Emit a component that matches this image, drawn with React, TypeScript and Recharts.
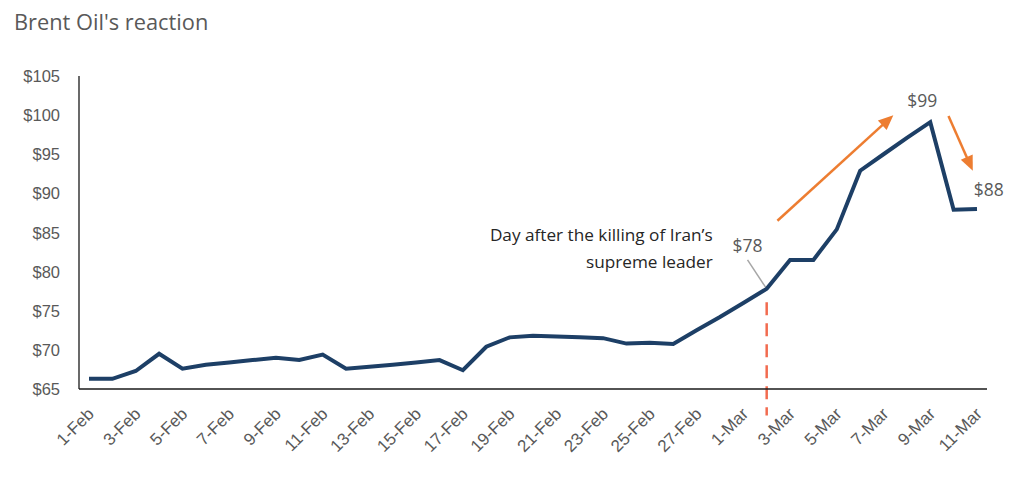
import React from 'react';
import { LineChart, Line, XAxis, YAxis, ReferenceLine, ReferenceDot } from 'recharts';

const dates = [
  '1-Feb', '2-Feb', '3-Feb', '4-Feb', '5-Feb', '6-Feb', '7-Feb', '8-Feb', '9-Feb', '10-Feb',
  '11-Feb', '12-Feb', '13-Feb', '14-Feb', '15-Feb', '16-Feb', '17-Feb', '18-Feb', '19-Feb', '20-Feb',
  '21-Feb', '22-Feb', '23-Feb', '24-Feb', '25-Feb', '26-Feb', '27-Feb', '28-Feb',
  '1-Mar', '2-Mar', '3-Mar', '4-Mar', '5-Mar', '6-Mar', '7-Mar', '8-Mar', '9-Mar', '10-Mar', '11-Mar',
];

const prices = [
  66.3, 66.3, 67.3, 69.5, 67.6, 68.1, 68.4, 68.7, 69.0, 68.7,
  69.4, 67.6, 67.85, 68.1, 68.4, 68.7, 67.4, 70.4, 71.6, 71.8,
  71.7, 71.6, 71.5, 70.8, 70.9, 70.75, 72.5, 74.2,
  76.0, 77.8, 81.5, 81.5, 85.4, 92.9, 95.0, 97.1, 99.1, 87.9, 88.0,
];

const yTicks = [65, 70, 75, 80, 85, 90, 95, 100, 105];
const xTickIndices = [0, 2, 4, 6, 8, 10, 12, 14, 16, 18, 20, 22, 24, 26, 28, 30, 32, 34, 36, 38];

const data = dates.map((d, i) => ({ i, date: d, price: prices[i] }));

// annotation anchors in data coordinates (day index, price)
const eventIndex = 29;
const eventPrice = 77.8;

const GRAY = '#595959';
const ORANGE = '#ED7D31';
const NAVY = '#1D3F66';

const Arrow = (p: any) => {
  const { x1, y1, x2, y2 } = p;
  const dx = x2 - x1;
  const dy = y2 - y1;
  const len = Math.hypot(dx, dy) || 1;
  const ux = dx / len;
  const uy = dy / len;
  const hl = 15;
  const hw = 6.5;
  const bx = x2 - ux * hl;
  const by = y2 - uy * hl;
  return (
    <g>
      <line x1={x1} y1={y1} x2={bx + ux * 2} y2={by + uy * 2} stroke={ORANGE} strokeWidth={2.5} />
      <polygon
        points={`${x2},${y2} ${bx - uy * hw},${by + ux * hw} ${bx + uy * hw},${by - ux * hw}`}
        fill={ORANGE}
      />
    </g>
  );
};

const makeLabel = (txt: string) => (p: any) => (
  <text
    x={p.cx}
    y={p.cy}
    textAnchor="middle"
    dominantBaseline="central"
    fill={GRAY}
    fontFamily="'Open Sans', sans-serif"
    fontSize={17.5}
  >
    {txt}
  </text>
);

const NoteShape = (p: any) => (
  <text
    x={p.cx}
    y={p.cy}
    textAnchor="end"
    dominantBaseline="central"
    fill="#262626"
    fontFamily="'Open Sans', sans-serif"
    fontSize={17.2}
  >
    <tspan x={p.cx} dy={0}>Day after the killing of Iran’s</tspan>
    <tspan x={p.cx} dy={26.5}>supreme leader</tspan>
  </text>
);

const XTick = (props: any) => {
  const { x, y, payload } = props;
  const ax = x + 6;
  const ay = y + 26;
  return (
    <text
      x={ax}
      y={ay}
      textAnchor="end"
      fill={GRAY}
      fontFamily="'Liberation Sans', Arial, sans-serif"
      fontSize={17}
      transform={`rotate(-45, ${ax}, ${ay})`}
    >
      {dates[payload.value]}
    </text>
  );
};

const YTick = (props: any) => {
  const { x, y, payload } = props;
  return (
    <text
      x={x}
      y={y}
      textAnchor="end"
      dominantBaseline="central"
      fill={GRAY}
      fontFamily="'Liberation Sans', Arial, sans-serif"
      fontSize={16.5}
    >
      {`$${payload.value}`}
    </text>
  );
};

export default function App() {
  return (
    <div style={{ position: 'absolute', left: 0, top: 0, width: 1024, height: 484, background: '#fff' }}>
      <svg width={1024} height={60} style={{ position: 'absolute', left: 0, top: 0, pointerEvents: 'none' }}>
        <text x={14} y={30} fill={GRAY} fontFamily="'Open Sans', sans-serif" fontSize={21.8}>
          Brent Oil's reaction
        </text>
      </svg>
      <LineChart
        width={1024}
        height={484}
        data={data}
        margin={{ top: 76, right: 37, bottom: 0, left: 0 }}
      >
        <XAxis
          dataKey="i"
          type="number"
          domain={[0, 38]}
          ticks={xTickIndices}
          interval={0}
          padding={{ left: 10, right: 10 }}
          height={95}
          tickSize={0}
          tickMargin={0}
          tickLine={false}
          axisLine={{ stroke: '#1a1a1a', strokeWidth: 1.5 }}
          tick={<XTick />}
        />
        <YAxis
          type="number"
          domain={[65, 105]}
          ticks={yTicks}
          interval={0}
          width={79}
          tickSize={0}
          tickMargin={19}
          tickLine={false}
          axisLine={{ stroke: '#1a1a1a', strokeWidth: 1.3 }}
          tick={<YTick />}
        />
        <ReferenceLine
          segment={[{ x: eventIndex, y: 76.1 }, { x: eventIndex, y: 61.6 }]}
          stroke="#F26B4F"
          strokeWidth={2.5}
          strokeDasharray="13 8"
          ifOverflow="visible"
        />
        <ReferenceLine
          segment={[{ x: 28.18, y: 81.5 }, { x: eventIndex, y: eventPrice }]}
          stroke="#A6A6A6"
          strokeWidth={1.5}
          ifOverflow="visible"
        />
        <Line
          type="linear"
          dataKey="price"
          stroke={NAVY}
          strokeWidth={4}
          dot={false}
          activeDot={false}
          isAnimationActive={false}
        />
        <ReferenceLine
          segment={[{ x: 29.46, y: 86.5 }, { x: 34.42, y: 100.0 }]}
          ifOverflow="visible"
          shape={Arrow}
        />
        <ReferenceLine
          segment={[{ x: 36.78, y: 99.9 }, { x: 37.82, y: 92.88 }]}
          ifOverflow="visible"
          shape={Arrow}
        />
        <ReferenceDot x={28.18} y={83.4} r={0} ifOverflow="visible" shape={makeLabel('$78')} />
        <ReferenceDot x={35.66} y={101.95} r={0} ifOverflow="visible" shape={makeLabel('$99')} />
        <ReferenceDot x={38.5} y={90.6} r={0} ifOverflow="visible" shape={makeLabel('$88')} />
        <ReferenceDot x={26.69} y={84.8} r={0} ifOverflow="visible" shape={NoteShape} />
      </LineChart>
    </div>
  );
}
